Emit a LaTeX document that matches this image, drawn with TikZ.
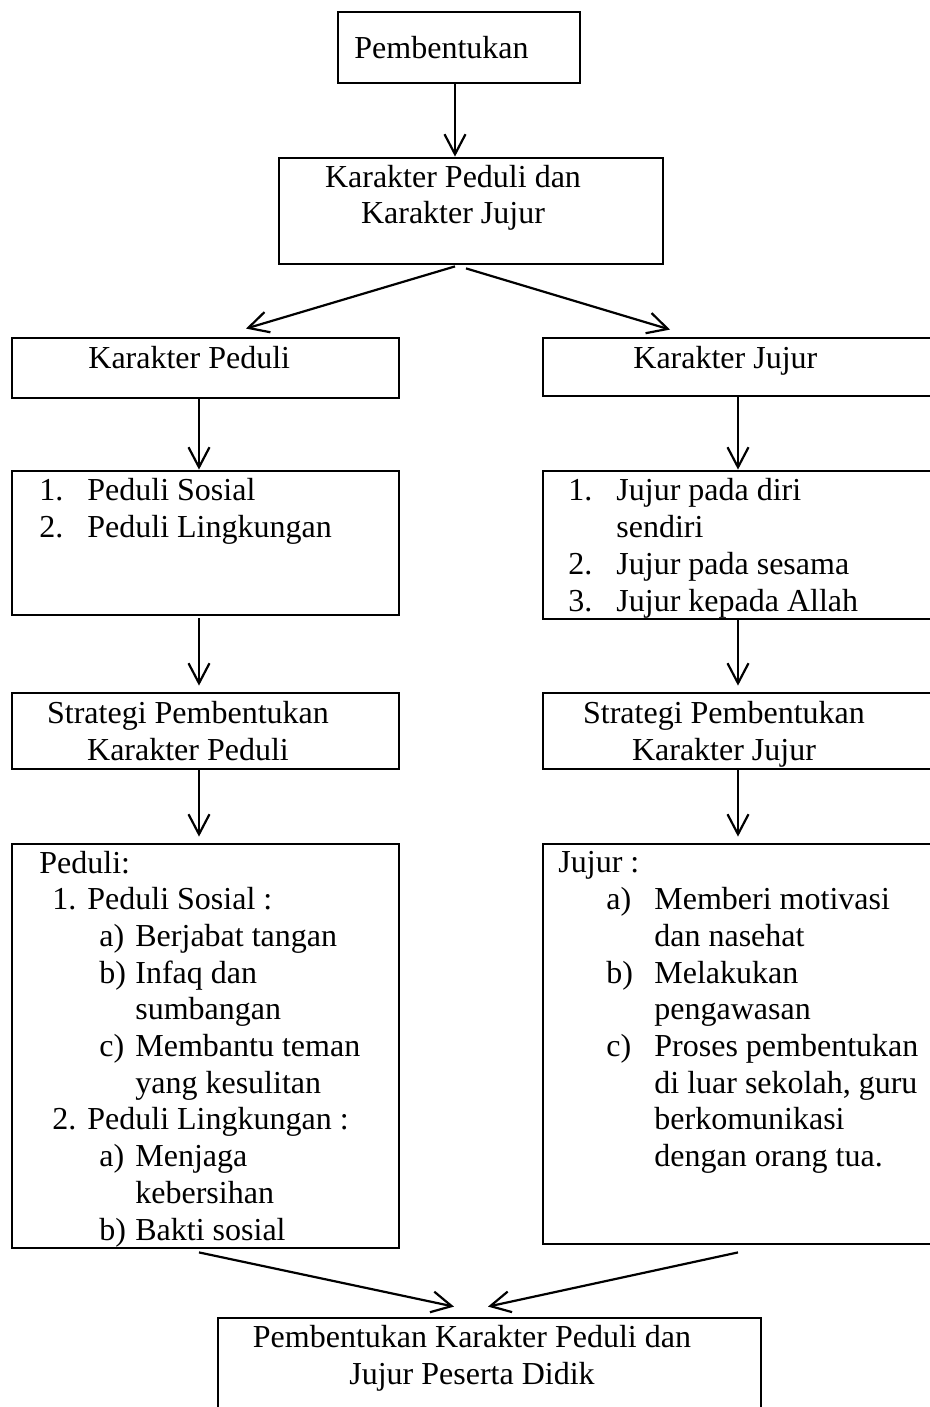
\documentclass[tikz,border=0pt]{standalone}
\usepackage{fontspec}
\setmainfont{Liberation Serif}
\usetikzlibrary{arrows.meta}
\newcommand{\nomor}[3]{\hspace*{#1}\makebox[#2][l]{#3}}

\begin{document}
\begin{tikzpicture}[x=0.5pt,y=-0.5pt,
  kotak/.style={draw, line width=1.4pt, inner sep=0pt},
  teks/.style={font=\fontsize{16}{18.35}\selectfont, inner sep=0pt, align=left},
  panah/.style={line width=1.1pt, -{Straight Barb[length=10pt,width=10.5pt]}}]
\useasboundingbox (0,0) rectangle (930,1407);
\coordinate (tengah) at (455,0);
\coordinate (kiri) at (199,0);
\coordinate (kanan) at (738,0);
%
\node[kotak, minimum width=121pt, minimum height=35.5pt] (awal) at (459,47.5) {};
\node[kotak, minimum width=192pt, minimum height=53pt] (kpkj) at (471,211) {};
\node[kotak, minimum width=193.5pt, minimum height=30pt] (kp) at (205.5,368) {};
\node[kotak, minimum width=195pt, minimum height=29pt] (kj) at (738,367) {};
\node[kotak, minimum width=193.5pt, minimum height=72pt] (jenisp) at (205.5,543) {};
\node[kotak, minimum width=195pt, minimum height=74pt] (jenisj) at (738,545) {};
\node[kotak, minimum width=193.5pt, minimum height=38pt] (stratp) at (205.5,731) {};
\node[kotak, minimum width=195pt, minimum height=38pt] (stratj) at (738,731) {};
\node[kotak, minimum width=193.5pt, minimum height=202pt] (carap) at (205.5,1046) {};
\node[kotak, minimum width=195pt, minimum height=200pt] (caraj) at (738,1044) {};
\node[kotak, minimum width=271.5pt, minimum height=48pt] (hasil) at (489.5,1366) {};
%
% multi-line texts sit on the baseline of their last line
\node[teks, anchor=base west] (t-awal) at (354,59) {Pembentukan};
\node[teks, anchor=base, align=center] (t-kpkj) at (453,224) {Karakter Peduli dan\\Karakter Jujur};
\node[teks, anchor=base west] (t-kp) at (88,368) {Karakter Peduli};
\node[teks, anchor=base west] (t-kj) at (633,368) {Karakter Jujur};
\node[teks, anchor=base west] (t-jenisp) at (39,537.5) {%
  \nomor{0pt}{24pt}{1.}Peduli Sosial\\
  \nomor{0pt}{24pt}{2.}Peduli Lingkungan};
\node[teks, anchor=base west] (t-jenisj) at (568,611) {%
  \nomor{0pt}{24pt}{1.}Jujur pada diri\\
  \hspace*{24pt}sendiri\\
  \nomor{0pt}{24pt}{2.}Jujur pada sesama\\
  \nomor{0pt}{24pt}{3.}Jujur kepada Allah};
\node[teks, anchor=base, align=center] (t-stratp) at (188,760) {Strategi Pembentukan\\Karakter Peduli};
\node[teks, anchor=base, align=center] (t-stratj) at (724,760) {Strategi Pembentukan\\Karakter Jujur};
\node[teks, anchor=base west] (t-carap) at (39,1240) {%
  Peduli:\\
  \nomor{6.5pt}{17.5pt}{1.}Peduli Sosial :\\
  \nomor{30pt}{18pt}{a)}Berjabat tangan\\
  \nomor{30pt}{18pt}{b)}Infaq dan\\
  \hspace*{48pt}sumbangan\\
  \nomor{30pt}{18pt}{c)}Membantu teman\\
  \hspace*{48pt}yang kesulitan\\
  \nomor{6.5pt}{17.5pt}{2.}Peduli Lingkungan :\\
  \nomor{30pt}{18pt}{a)}Menjaga\\
  \hspace*{48pt}kebersihan\\
  \nomor{30pt}{18pt}{b)}Bakti sosial};
\node[teks, anchor=base west] (t-caraj) at (558,1166.5) {%
  Jujur :\\
  \nomor{24pt}{24pt}{a)}Memberi motivasi\\
  \hspace*{48pt}dan nasehat\\
  \nomor{24pt}{24pt}{b)}Melakukan\\
  \hspace*{48pt}pengawasan\\
  \nomor{24pt}{24pt}{c)}Proses pembentukan\\
  \hspace*{48pt}di luar sekolah, guru\\
  \hspace*{48pt}berkomunikasi\\
  \hspace*{48pt}dengan orang tua.};
\node[teks, anchor=base, align=center] (t-hasil) at (472,1384) {Pembentukan Karakter Peduli dan\\Jujur Peserta Didik};
%
\draw[panah] (awal.south -| tengah) -- (kpkj.north -| tengah);
\draw[panah] ([shift={(-16,1)}]kpkj.south) -- ([shift={(40.5,-8)}]kp.north);
\draw[panah] ([shift={(-5,3)}]kpkj.south) -- ([shift={(-68,-7)}]kj.north);
%
\draw[panah] (kp.south -| kiri) -- (jenisp.north -| kiri);
\draw[panah] (kj.south -| kanan) -- (jenisj.north -| kanan);
\draw[panah] ([shift={(0,2)}]jenisp.south -| kiri) -- ([shift={(0,-6)}]stratp.north -| kiri);
\draw[panah] (jenisj.south -| kanan) -- ([shift={(0,-6)}]stratj.north -| kanan);
\draw[panah] (stratp.south -| kiri) -- ([shift={(0,-6)}]carap.north -| kiri);
\draw[panah] (stratj.south -| kanan) -- ([shift={(0,-6)}]caraj.north -| kanan);
%
\draw[panah] ([shift={(0,3)}]carap.south -| kiri) -- ([shift={(-35.5,-10)}]hasil.north);
\draw[panah] ([shift={(0,7)}]caraj.south -| kanan) -- ([shift={(-1.5,-10)}]hasil.north);
\end{tikzpicture}
\end{document}
